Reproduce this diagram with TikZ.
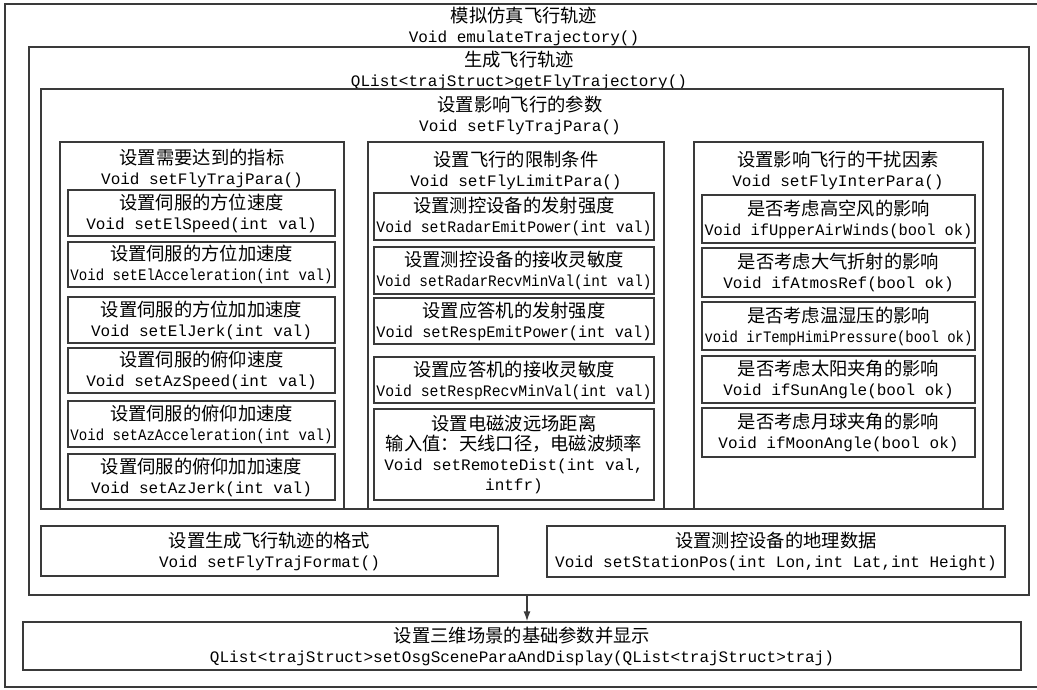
\documentclass[tikz,border=0pt]{standalone}
\usepackage{fontspec}
\usepackage{graphicx}
\setmainfont{Noto Sans CJK SC}
\newfontfamily\cdfont{Liberation Mono}
\usetikzlibrary{arrows.meta}
\definecolor{linec}{HTML}{3A3A3A}
\definecolor{txtc}{HTML}{000000}
\newcommand\cd[1]{{\fontsize{16}{20}\cdfont #1}}
\newsavebox\fitbx
\newcommand\fitw[2]{\sbox\fitbx{#2}\ifdim\wd\fitbx>#1\relax\resizebox{#1}{\height}{\usebox\fitbx}\else\usebox\fitbx\fi}
\newcommand\cw[2]{\fitw{#1}{\cd{#2}}}
\tikzset{
  bx/.style={draw=linec, line width=1.4pt, inner sep=0pt, text=txtc, align=center,
    font=\fontsize{18.3}{20}\selectfont},
  tx/.style={inner sep=0pt, text=txtc, align=center, font=\fontsize{18.3}{20}\selectfont},
  arr/.style={draw=linec, line width=1.4pt, -{Latex[length=10pt,width=7pt]}},
}
\newcommand\bx[6]{\node[bx, minimum width={(#4-#2)*1pt}, minimum height={(#5-#3)*1pt}] (#1) at ({(#2+#4)/2},{(#3+#5)/2}) {#6};}
\begin{document}
\begin{tikzpicture}[x=1pt,y=-1pt]
\clip (0,0) rectangle (1037,689);
\fill[white] (0,0) rectangle (1037,689);
% outer container
\bx{outer}{5}{4}{1045}{687}{}
\node[tx] (t0) at (524,26) {模拟仿真飞行轨迹\\\cd{Void emulateTrajectory()}};
% generate trajectory
\bx{gen}{29}{47}{1029}{595}{}
\node[tx] (t1) at (519,70) {生成飞行轨迹\\\cd{QList<trajStruct>getFlyTrajectory()}};
% parameters
\bx{par}{41}{89}{1003}{509}{}
\node[tx] (t2) at (520,115) {设置影响飞行的参数\\\cd{Void setFlyTrajPara()}};
% columns
\bx{c1}{60}{142}{344}{509}{}
\node[tx] (tc1) at (202,168) {设置需要达到的指标\\\cd{Void setFlyTrajPara()}};
\bx{c2}{368}{142}{664}{509}{}
\node[tx] (tc2) at (516,170) {设置飞行的限制条件\\\cd{Void setFlyLimitPara()}};
\bx{c3}{694}{142}{983}{509}{}
\node[tx] (tc3) at (838,170) {设置影响飞行的干扰因素\\\cd{Void setFlyInterPara()}};
% column 1
\bx{a1}{68}{190}{335}{236}{设置伺服的方位速度\\\cw{262pt}{Void setElSpeed(int val)}}
\bx{a2}{68}{242}{335}{287}{设置伺服的方位加速度\\\cw{262pt}{Void setElAcceleration(int val)}}
\bx{a3}{68}{297}{335}{343}{设置伺服的方位加加速度\\\cw{262pt}{Void setElJerk(int val)}}
\bx{a4}{68}{348}{335}{393}{设置伺服的俯仰速度\\\cw{262pt}{Void setAzSpeed(int val)}}
\bx{a5}{68}{401}{335}{447}{设置伺服的俯仰加速度\\\cw{262pt}{Void setAzAcceleration(int val)}}
\bx{a6}{68}{454}{335}{500}{设置伺服的俯仰加加速度\\\cw{262pt}{Void setAzJerk(int val)}}
% column 2
\bx{b1}{374}{193}{654}{240}{设置测控设备的发射强度\\\cw{275pt}{Void setRadarEmitPower(int val)}}
\bx{b2}{374}{247}{654}{294}{设置测控设备的接收灵敏度\\\cw{275pt}{Void setRadarRecvMinVal(int val)}}
\bx{b3}{374}{298}{654}{344}{设置应答机的发射强度\\\cw{275pt}{Void setRespEmitPower(int val)}}
\bx{b4}{374}{357}{654}{403}{设置应答机的接收灵敏度\\\cw{275pt}{Void setRespRecvMinVal(int val)}}
\bx{b5}{374}{409}{654}{500}{设置电磁波远场距离\\输入值：天线口径，电磁波频率\\\cw{275pt}{Void setRemoteDist(int val,}\\\cw{275pt}{intfr)}}
% column 3
\bx{d1}{702}{195}{975}{243}{是否考虑高空风的影响\\\cw{268pt}{Void ifUpperAirWinds(bool ok)}}
\bx{d2}{702}{248}{975}{297}{是否考虑大气折射的影响\\\cw{268pt}{Void ifAtmosRef(bool ok)}}
\bx{d3}{702}{302}{975}{350}{是否考虑温湿压的影响\\\cw{268pt}{void irTempHimiPressure(bool ok)}}
\bx{d4}{702}{356}{975}{403}{是否考虑太阳夹角的影响\\\cw{268pt}{Void ifSunAngle(bool ok)}}
\bx{d5}{702}{408}{975}{457}{是否考虑月球夹角的影响\\\cw{268pt}{Void ifMoonAngle(bool ok)}}
% bottom boxes
\bx{fmt}{41}{526}{498}{576}{设置生成飞行轨迹的格式\\\cd{Void setFlyTrajFormat()}}
\bx{sta}{547}{526}{1005}{577}{设置测控设备的地理数据\\\cd{Void setStationPos(int Lon,int Lat,int Height)}}
\bx{fin}{23}{622}{1021}{670}{设置三维场景的基础参数并显示\\\cd{QList<trajStruct>setOsgSceneParaAndDisplay(QList<trajStruct>traj)}}
% connector
\draw[arr] ([xshift=-2pt]gen.south) -- ([xshift=-2pt]gen.south |- fin.north);
\end{tikzpicture}
\end{document}
